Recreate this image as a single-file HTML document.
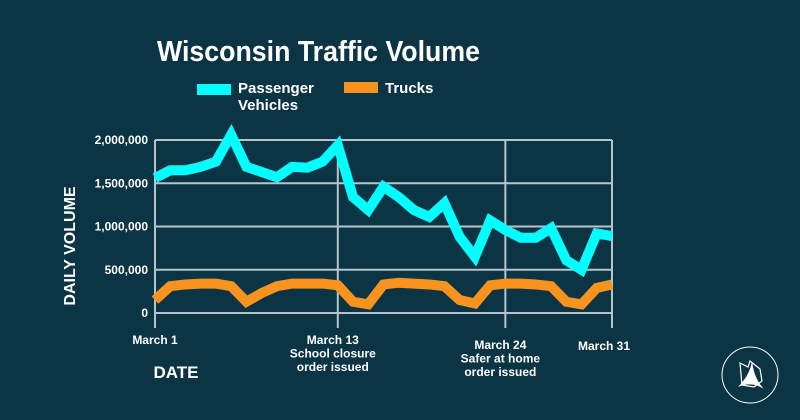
<!DOCTYPE html>
<html><head><meta charset="utf-8"><style>
html,body{margin:0;padding:0;background:#0b3445;}
svg{display:block;font-family:"Liberation Sans",Arial,sans-serif;}
</style></head><body>
<svg width="800" height="420" viewBox="0 0 800 420">
<rect width="800" height="420" fill="#0b3445"/>
<text x="157" y="61" textLength="323" lengthAdjust="spacingAndGlyphs" fill="#fff" font-size="29" font-weight="bold">Wisconsin Traffic Volume</text>
<g>
<rect x="197" y="84" width="34" height="11" fill="#00ffff"/>
<text x="238" y="93" fill="#fff" font-size="15" font-weight="bold">Passenger</text>
<text x="238" y="110" fill="#fff" font-size="15" font-weight="bold">Vehicles</text>
<rect x="344" y="82" width="34" height="11" fill="#f7931e"/>
<text x="385" y="93" fill="#fff" font-size="15" font-weight="bold">Trucks</text>
</g>
<text transform="translate(75,246) rotate(-90)" text-anchor="middle" fill="#fff" font-size="16" font-weight="bold">DAILY VOLUME</text>
<text x="176" y="378" text-anchor="middle" fill="#fff" font-size="17" font-weight="bold">DATE</text>
<g id="grid"></g><g id="series"></g><g id="labels"></g>
<g transform="translate(750,375)">
<circle r="28" fill="none" stroke="#fff" stroke-width="1"/>
<path d="M-10,-12 L-2,-8 L0,-14 L10,-6 L12,6 L4,12 L-8,10 Z" fill="none" stroke="#fff" stroke-width="1.2"/>
<path d="M-12,12 Q0,0 2,-14 Q4,4 14,14 Q2,6 -12,12 Z" fill="#fff"/>
</g>
</svg>
<script>
const days = ["March 1","March 2","March 3","March 4","March 5","March 6","March 7","March 8","March 9","March 10","March 11","March 12","March 13","March 14","March 15","March 16","March 17","March 18","March 19","March 20","March 21","March 22","March 23","March 24","March 25","March 26","March 27","March 28","March 29","March 30","March 31"];
const passenger = [1560000,1650000,1650000,1690000,1750000,2060000,1690000,1630000,1570000,1690000,1680000,1750000,1940000,1340000,1190000,1460000,1340000,1190000,1110000,1270000,880000,650000,1070000,960000,870000,870000,980000,610000,500000,920000,890000];
const trucks = [150000,310000,330000,340000,340000,310000,130000,230000,310000,340000,340000,340000,320000,130000,100000,330000,350000,340000,330000,310000,150000,110000,320000,340000,340000,330000,310000,130000,100000,290000,330000];
const yTicks = [0,500000,1000000,1500000,2000000];
const yTickLabels = ["0","500,000","1,000,000","1,500,000","2,000,000"];
const xMarkIdx = [0,12,23,30];
const xMarkLabels = [["March 1"],["March 13","School closure","order issued"],["March 24","Safer at home","order issued"],["March 31"]];

const NS="http://www.w3.org/2000/svg";
const X0=155,X1=612,Y0=313,Y1=140,YMAX=2000000;
const xs=i=>X0+(X1-X0)*i/(days.length-1);
const ys=v=>Y0-(Y0-Y1)*v/YMAX;
function mk(tag,attrs,parent){const e=document.createElementNS(NS,tag);for(const k in attrs)e.setAttribute(k,attrs[k]);parent.appendChild(e);return e;}
const grid=document.getElementById('grid'),series=document.getElementById('series'),labels=document.getElementById('labels');
yTicks.forEach((t,i)=>{
  const l=mk('line',{x1:X0,x2:X1,y1:ys(t),y2:ys(t),stroke:'#b8c4cc','stroke-width':2},grid);
  
  
  const tx=mk('text',{x:148,y:ys(t)+4,'text-anchor':'end',fill:'#fff','font-size':12,'font-weight':'bold'},labels);
  tx.textContent=yTickLabels[i];
  
  
});
xMarkIdx.forEach((d,i)=>{
  const l=mk('line',{x1:xs(d),x2:xs(d),y1:Y1,y2:328,stroke:'#b8c4cc','stroke-width':2},grid);
  
  
  const lines=xMarkLabels[i];
  const base=lines.length>1?(i===1?344:349):(i===0?344:350);
  const cx=i===0?xs(d):(i===3?xs(d)-8:xs(d)-5);
  lines.forEach((s,j)=>{
    const tx=mk('text',{x:cx,y:base+j*13.5,'text-anchor':'middle',fill:'#fff','font-size':12,'font-weight':'bold'},labels);
    tx.textContent=s;
    
    
  });
});
function line(vals,color,name){
  const p=mk('polyline',{points:vals.map((v,i)=>xs(i)+','+ys(v)).join(' '),fill:'none',stroke:color,'stroke-width':10,'stroke-linejoin':'miter','stroke-miterlimit':3},series);
  
  
}
line(trucks,'#f7931e','trucks-line');
line(passenger,'#00ffff','passenger-line');
</script>
</body></html>
